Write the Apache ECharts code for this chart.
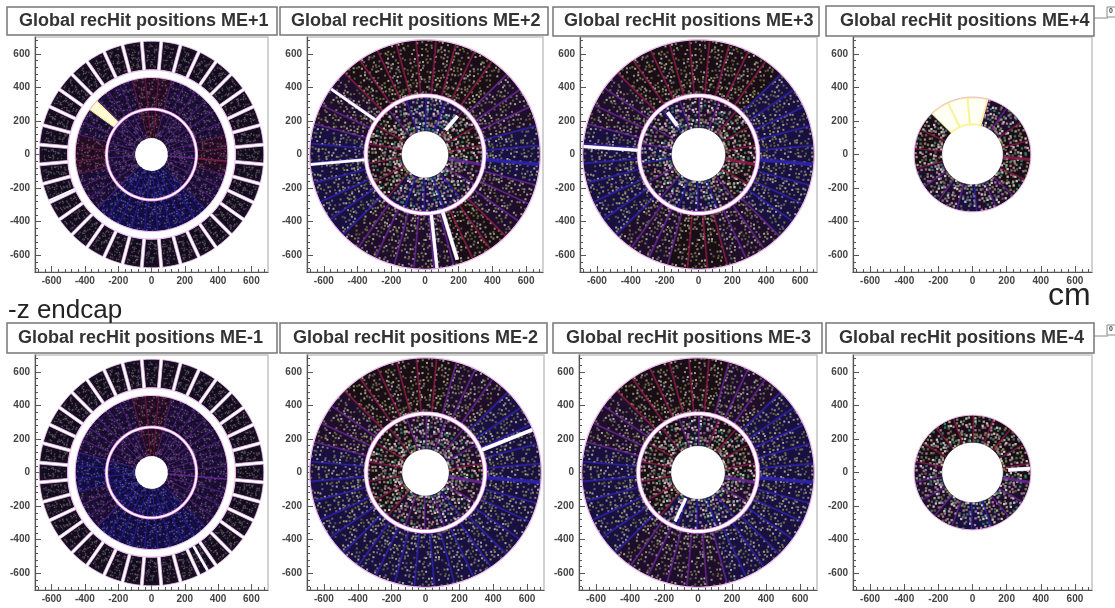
<!DOCTYPE html>
<html><head><meta charset="utf-8">
<style>html,body{margin:0;padding:0;background:#fff}#main{width:1115px;height:608px;filter:blur(0.7px)}</style>
<script src="https://cdn.jsdelivr.net/npm/echarts@6/dist/echarts.min.js"></script>
</head><body><div id="main"></div>
<script>
const panelTitles=["Global recHit positions ME+1","Global recHit positions ME+2","Global recHit positions ME+3","Global recHit positions ME+4","Global recHit positions ME-1","Global recHit positions ME-2","Global recHit positions ME-3","Global recHit positions ME-4"];
const tickLabels=[-600,-400,-200,0,200,400,600];
const minorTicks=[-680,-640,-560,-520,-480,-440,-360,-320,-280,-240,-160,-120,-80,-40,40,80,120,160,240,280,320,360,440,480,520,560,640,680];
// chamber centre angles, degrees
const angles36=[0,10,20,30,40,50,60,70,80,90,100,110,120,130,140,150,160,170,180,190,200,210,220,230,240,250,260,270,280,290,300,310,320,330,340,350];
const angles18=[0,20,40,60,80,100,120,140,160,180,200,220,240,260,280,300,320,340];
const angles18b=[5,25,45,65,85,105,125,145,165,185,205,225,245,265,285,305,325,345];
// rings: inner r, outer r (cm), hit density, colour by 30-degree sector from 0 deg counter-clockwise
const ringsME1p=[[100,265,.55,"PPPRPPPPBBBP"],[275,456,.55,"RPPRPPRPBBBP"],[505,675,.55,"PPPPPPPPPPPP"]];
const ringsME2p=[[140,346,1,"RRBBPRRRBBBP"],[356,682,.8,"BPRRRPBBPPRP"]];
const ringsME3p=[[160,346,1,"RRPPBPBPBBPR"],[356,682,.8,"BBRRRPBBPRPB"]];
const ringsME4p=[[180,340,1,"RRPPPRRPPBPR"]];
const ringsME1m=[[100,265,.5,"PPPRPPBBBBBP"],[275,456,.5,"PPPRPPBPBBBP"],[505,675,.55,"PPPPPPPPPPPP"]];
const ringsME2m=[[140,346,1,"RPPPRRRRPPBP"],[356,682,.8,"BBPRRPBBBBBB"]];
const ringsME3m=[[160,346,1,"RRRPRRRRBBBP"],[356,682,.8,"BBPRRPBBPPBB"]];
const ringsME4m=[[180,340,1,"RRRRRRPPPBPP"]];
// broken chambers: panel, ring, centre angle
const deadChambers=[[0,1,140],[3,0,85],[3,0,105],[3,0,125]];
// white strips: panel, inner r, outer r, angle, width
const whiteStrips=[[0,505,675,204,1.4],[1,360,680,145,2.2],[1,360,680,185,2],[1,360,680,276,2.6],[1,360,655,287,3],[1,190,300,50,3],[2,360,680,176,2.6],[2,212,311,126,3],[4,505,675,300,2],[5,360,680,22,3],[6,170,320,245,2.4],[7,210,338,4,3]];
const speckle=[.62,.11,.87,.34,.05,.71,.48,.93,.27,.58,.16,.82,.39,.67,.02,.76,.21,.53,.97,.31,.44,.09,.85,.64,.18,.73,.36,.91,.13,.56,.79,.25,.47,.01,.69,.88,.33,.59,.14,.95,.41,.77,.07,.52,.29,.83,.19,.66,.38,.99,.23,.61,.45,.04,.74,.15,.89,.35,.57,.10,.81,.28,.50,.68];

const panelRings=[ringsME1p,ringsME2p,ringsME3p,ringsME4p,ringsME1m,ringsME2m,ringsME3m,ringsME4m];
const gridBoxes=[[35,268,37,272],[307,543,37,272],[580,817,37,272],[853,1092,37,272],[35,268,355,590],[307,544,355,590],[579,817,355,590],[853,1092,355,590]];
const titleBoxes=[[7,277,7,35,19],[280,548,7,35,291],[553,819,7,36,564],[826,1094,6,36,840],[7,277,323,353,18],[280,547,323,353,293],[553,822,323,353,566],[826,1094,323,353,839]];

const tintStripe={R:'#a01c50',P:'#7428a4',B:'#3226c0'};
const tintBaseDim={R:'#30102c',P:'#241244',B:'#18125c'};
const tintBase={R:'#1a0e16',P:'#1e0e2c',B:'#181040'};
const outerBase='#1c1228';
const hitInner=['#d8d4c8','#86865c','#b4b098','#38806c','#b880a8','#686252'];
const hitOuter=['#98987a','#707044','#808052','#b4b4a0','#5e5e3a','#7c6c80'];
const hitDim=['#8a8a70','#6e6a58','#8878a0'];

function rad(d){return d*Math.PI/180;}
function pt(api,r,d){return api.coord([r*Math.cos(rad(d)),r*Math.sin(rad(d))]);}
function chamberItem(params,api){
  const r0=api.value(0),r1=api.value(1),ang=api.value(2),half=api.value(3),tone=api.value(4),gap=api.value(5),dead=api.value(6);
  const tint=api.value(7);const letter='RPB'[tint];
  const dim=tone<.6;
  const children=[];
  const e=r=>half-(gap/2)/r*180/Math.PI;
  const poly=[];
  for(let i=0;i<=4;i++)poly.push(pt(api,r1,ang-e(r1)+2*e(r1)*i/4));
  for(let i=4;i>=0;i--)poly.push(pt(api,r0,ang-e(r0)+2*e(r0)*i/4));
  if(dead){
    if(half>8){
      children.push({type:'polygon',shape:{points:poly},style:{fill:'#fffff6',stroke:'#f8f49c',lineWidth:2}});
    }else{
      const slim=[];
      for(let i=0;i<=4;i++)slim.push(pt(api,r1,ang-4+2*i));
      for(let i=4;i>=0;i--)slim.push(pt(api,r0,ang-4+2*i));
      children.push({type:'polygon',shape:{points:poly},style:{fill:tintBaseDim.P,stroke:null}});
      children.push({type:'polygon',shape:{points:slim},style:{fill:'#fffbd4',stroke:'#f8f0a0',lineWidth:1.2}});
    }
    return {type:'group',children};
  }
  const base=gap>0?outerBase:(dim?tintBaseDim[letter]:tintBase[letter]);
  children.push({type:'polygon',shape:{points:poly},style:{fill:base,stroke:gap>0?'#f2c4f2':base,lineWidth:gap>0?.8:.5}});
  const rm=(r0+r1)/2,arc=rad(2*half)*rm;
  const step=dim?15:20;
  const nr=Math.max(3,Math.round((r1-r0)/step)),nc=Math.max(2,Math.round(arc/(dim?18:24)));
  const k=params.dataIndex;
  const cap=half>8||r1<400?.82:.78;
  const spread=gap>0?.62:.9;
  const rPad=gap>0?.08:0;
  for(let i=0;i<nr;i++)for(let j=0;j<nc;j++){
    const h=speckle[(i*13+j*7+k*5)%64];
    const h2=speckle[(i*5+j*11+k*3+17)%64],h3=speckle[(i*3+j*19+k*7+31)%64];
    const fr=(i+.15+.7*h2)/nr;
    const r=r0+(r1-r0)*(rPad+(1-2*rPad)*fr);
    const a=ang-half*spread+2*spread*half*(j+.15+.7*h3)/nc;
    const p=pt(api,r,a);
    if(h>tone*cap){
      if(dim){children.push({type:'rect',shape:{x:p[0]-1,y:p[1]-1,width:2,height:2},style:{fill:'#0c0816',opacity:.6}});}
      continue;
    }
    const c=dim?hitDim[(i+j+k)%3]:(r1<400?hitInner:hitOuter)[Math.floor(h2*6)%6];
    const s=dim?1.4:(r1<400?2.3:2);
    children.push({type:'rect',shape:{x:p[0]-s/2,y:p[1]-s/2,width:s,height:s},style:{fill:c,opacity:dim?.6:.9}});
  }
  if(gap===0){
    const sw=dim?1.8:(half>8?3.2:3.8);
    children.push({type:'polyline',shape:{points:[pt(api,r0,ang+half),pt(api,r1,ang+half)]},style:{stroke:tintStripe[letter],lineWidth:sw,fill:null,opacity:dim?.7:.75}});
  }
  return {type:'group',children};
}
function stripItem(params,api){
  const r0=api.value(0),r1=api.value(1),a=api.value(2),w=api.value(3);
  return {type:'group',children:[
    {type:'polyline',shape:{points:[pt(api,r0,a),pt(api,r1,a)]},style:{stroke:'#d8c8ff',lineWidth:w+1,fill:null}},
    {type:'polyline',shape:{points:[pt(api,r0,a),pt(api,r1,a)]},style:{stroke:'#ffffff',lineWidth:w,fill:null}}]};
}
function edgeItem(params,api){
  const r=api.value(0),w=api.value(1),kind=api.value(2);
  const pts=[];for(let d=0;d<360;d+=3)pts.push(pt(api,r,d));
  const kids=[{type:'polygon',shape:{points:pts},style:{fill:null,stroke:kind?'#e890e8':'#f0b8f0',lineWidth:w}}];
  if(kind)kids.push({type:'polygon',shape:{points:pts},style:{fill:null,stroke:'#ffffff',lineWidth:w-1.6}});
  return {type:'group',children:kids};
}
// circles drawn on top of the chambers: r, width, white core flag
const edgesME1=[[270,3.2,1],[459,1,0],[503,.8,0]];
const edgesME2=[[351,4.4,1],[684,1.2,0]];
const edgesME4=[[342,1,0]];
const panelEdges=[edgesME1,edgesME2,edgesME2,edgesME4,edgesME1,edgesME2,edgesME2,edgesME4];

const grid=[],xAxis=[],yAxis=[],series=[],title=[],graphic=[];
const axisFont={fontFamily:'Liberation Sans',fontWeight:'bold',fontSize:10,color:'#444'};
gridBoxes.forEach((b,p)=>{
  grid.push({left:b[0],top:b[2],width:b[1]-b[0],height:b[3]-b[2],show:true,borderColor:'#c4c4c4',borderWidth:1.5,backgroundColor:'#fff'});
  [0,1].forEach(minor=>{
    const tv=minor?minorTicks:tickLabels;
    const common={type:'value',min:-700,max:700,gridIndex:p,scale:false,splitLine:{show:false},
      axisLine:{show:!minor,onZero:false,lineStyle:{color:'#555',width:1.2}},
      axisTick:{show:true,inside:true,length:minor?3:6,customValues:tv,lineStyle:{color:'#555',width:1}},
      axisLabel:minor?{show:false}:Object.assign({show:true,customValues:tv,hideOverlap:false},axisFont)};
    xAxis.push(Object.assign({},common,{position:'bottom',axisLabel:minor?{show:false}:Object.assign({margin:4},common.axisLabel)}));
    yAxis.push(Object.assign({},common,{position:'left',axisLabel:minor?{show:false}:Object.assign({margin:5},common.axisLabel)}));
  });
  const rows=[];
  panelRings[p].forEach((ring,ri)=>{
    const is36=panelRings[p].length===3||ri===1;
    const list=is36?angles36:(p===3?angles18b:angles18);
    const half=is36?5:10;
    const gap=(panelRings[p].length===3&&ri===2)?17:0;
    list.forEach(a=>{
      const dead=deadChambers.some(d=>d[0]===p&&d[1]===ri&&d[2]===a)?1:0;
      const idx=Math.round(((a+360)%360)/30)%12;
      rows.push([ring[0],ring[1],a,half,ring[2],gap,dead,'RPB'.indexOf(ring[3][idx])]);
    });
  });
  const ax=2*p;
  series.push({type:'custom',xAxisIndex:ax,yAxisIndex:ax,silent:true,animation:false,z:2,clip:false,data:rows,renderItem:chamberItem,progressive:0});
  series.push({type:'custom',xAxisIndex:ax,yAxisIndex:ax,silent:true,animation:false,z:3,clip:false,data:panelEdges[p],renderItem:edgeItem,progressive:0});
  series.push({type:'custom',xAxisIndex:ax,yAxisIndex:ax,silent:true,animation:false,z:4,clip:false,data:whiteStrips.filter(s=>s[0]===p).map(s=>s.slice(1)),renderItem:stripItem,progressive:0});
});
titleBoxes.forEach((t,i)=>{
  graphic.push({type:'rect',z:20,shape:{x:t[0],y:t[2],width:t[1]-t[0],height:t[3]-t[2]},style:{fill:'#fff',stroke:'#777',lineWidth:1.5}});
  title.push({text:panelTitles[i],left:t[4],top:(t[2]+t[3])/2-9,z:30,padding:0,textStyle:{fontFamily:'Liberation Sans',fontWeight:'bold',fontSize:18,color:'#333',lineHeight:18}});
});
[[7],[325]].forEach(r=>{
  const y=r[0];
  graphic.push({type:'line',z:19,shape:{x1:1094,y1:y+11,x2:1108,y2:y+11},style:{stroke:'#888',lineWidth:1}});
  graphic.push({type:'rect',z:19,shape:{x:1107,y:y,width:10,height:10},style:{fill:'#fff',stroke:'#888',lineWidth:1}});
  graphic.push({type:'text',z:21,x:1109,y:y+1,style:{text:'0',fontFamily:'Liberation Sans',fontWeight:'bold',fontSize:7,fill:'#444'}});
});
graphic.push({type:'text',z:21,x:8,y:298,style:{text:'-z endcap',fontFamily:'Liberation Sans',fontSize:26,fill:'#222'}});
graphic.push({type:'text',z:21,x:1048,y:280,style:{text:'cm',fontFamily:'Liberation Sans',fontSize:32,fill:'#222'}});

const chart=echarts.init(document.getElementById('main'),null,{renderer:'canvas',width:1115,height:608});
chart.setOption({animation:false,backgroundColor:'#fff',title,grid,xAxis,yAxis,series,graphic});
</script></body></html>
